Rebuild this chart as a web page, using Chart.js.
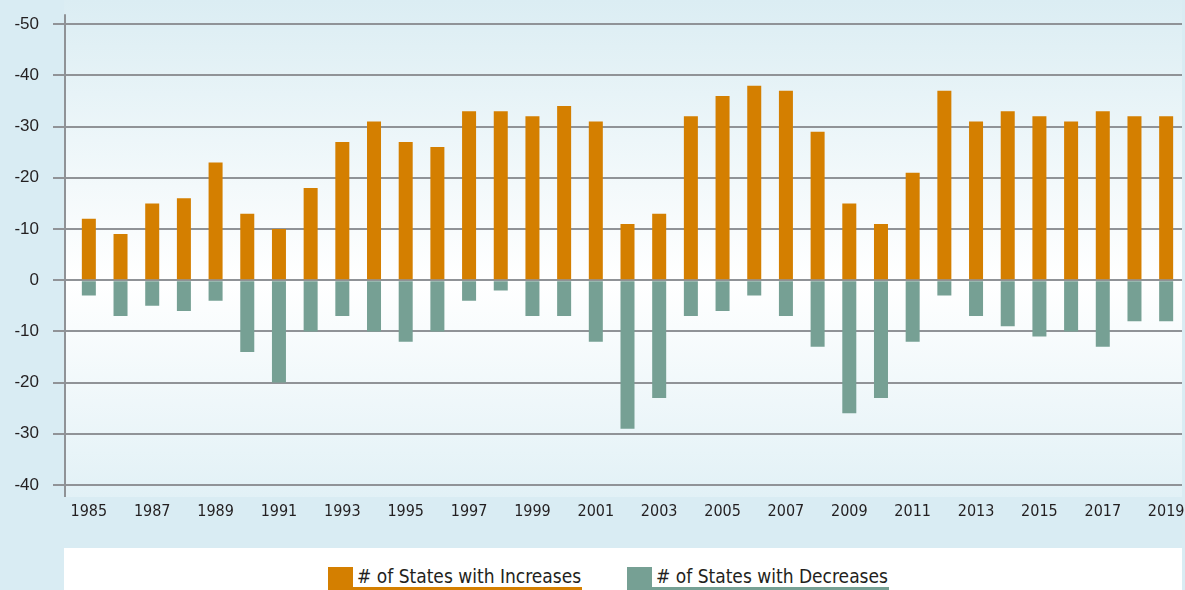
<!DOCTYPE html>
<html>
<head>
<meta charset="utf-8">
<script src="https://cdn.jsdelivr.net/npm/chart.js@4/dist/chart.umd.min.js"></script>
<style>
  html, body { margin: 0; padding: 0; }
  body { width: 1185px; height: 590px; background: #d9ecf3; position: relative; overflow: hidden; }
  #wrap { position: absolute; left: 0; top: 0; width: 1185px; height: 548px; }
  #legend { position: absolute; left: 64px; top: 548px; width: 1118px; height: 42px; background: #ffffff; }
  .item { position: absolute; top: 19px; height: 23px; }
  .mark { position: absolute; left: 0; top: 0; width: 25px; height: 23px; }
  .txt { position: absolute; left: 25px; top: -2px; padding-left: 4px; padding-right: 1px; white-space: nowrap;
         font-family: "Liberation Sans Narrow", "DejaVu Sans Condensed", sans-serif; font-size: 19px; color: #231f20;
         line-height: 22px; border-bottom: 3px solid; }
</style>
</head>
<body>
<div id="wrap"><canvas id="c" width="1185" height="548"></canvas></div>
<div id="legend"></div>
<script>
const years = ['1985','1986','1987','1988','1989','1990','1991','1992','1993','1994','1995','1996','1997','1998','1999','2000','2001','2002','2003','2004','2005','2006','2007','2008','2009','2010','2011','2012','2013','2014','2015','2016','2017','2018','2019'];
const increases = [12,9,15,16,23,13,10,18,27,31,27,26,33,33,32,34,31,11,13,32,36,38,37,29,15,11,21,37,31,33,32,31,33,32,32];
const decreases = [-3,-7,-5,-6,-4,-14,-20,-10,-7,-10,-12,-10,-4,-2,-7,-7,-12,-29,-23,-7,-6,-3,-7,-13,-26,-23,-12,-3,-7,-9,-11,-10,-13,-8,-8];
const yTickValues = [50,40,30,20,10,0,-10,-20,-30,-40];
const yTickLabels = ['-50','-40','-30','-20','-10','0','-10','-20','-30','-40'];
const seriesNames = ['# of States with Increases', '# of States with Decreases'];
const seriesColors = ['#d47f00', '#76a094'];

const bgPlugin = {
  id: 'bg',
  beforeDraw(chart) {
    const ctx = chart.ctx;
    const y = chart.scales.y;
    const top = 0, bottom = y.bottom + 12;
    const zeroY = y.getPixelForValue(0);
    const g = ctx.createLinearGradient(0, top, 0, bottom);
    g.addColorStop(0, '#dbedf3');
    g.addColorStop((zeroY - top) / (bottom - top), '#ffffff');
    g.addColorStop(1, '#e2f1f6');
    ctx.save();
    ctx.fillStyle = g;
    ctx.fillRect(64, top, chart.chartArea.right - 64, bottom - top);
    ctx.restore();
  },
  afterDraw(chart) {
    const ctx = chart.ctx;
    const a = chart.chartArea;
    ctx.save();
    ctx.strokeStyle = '#8f9296';
    ctx.lineWidth = 2;
    ctx.beginPath();
    ctx.moveTo(65, a.top - 10);
    ctx.lineTo(65, a.bottom + 12);
    ctx.stroke();
    ctx.restore();
  }
};

new Chart(document.getElementById('c'), {
  type: 'bar',
  data: {
    labels: years,
    datasets: [
      { label: seriesNames[0], data: increases, backgroundColor: seriesColors[0], borderWidth: 0 },
      { label: seriesNames[1], data: decreases, backgroundColor: seriesColors[1], borderWidth: 0 }
    ]
  },
  options: {
    responsive: false,
    animation: false,
    layout: { padding: { left: 0, right: 3, top: 19, bottom: 0 } },
    plugins: { legend: { display: false }, tooltip: { enabled: false } },
    datasets: { bar: { categoryPercentage: 1, barPercentage: 0.442 } },
    scales: {
      x: {
        stacked: true,
        offset: true,
        grid: { display: false, drawTicks: false },
        border: { display: false },
        afterFit(scale) { scale.height = 63; scale.paddingLeft = 0; scale.paddingRight = 0; },
        ticks: {
          autoSkip: false, maxRotation: 0, minRotation: 0, padding: 17,
          color: '#231f20',
          font: { family: '"Liberation Sans Narrow", "DejaVu Sans Condensed", sans-serif', size: 16 },
          callback(v, i) { return i % 2 === 0 ? years[i] : ''; }
        }
      },
      y: {
        stacked: true,
        min: -40, max: 50,
        afterFit(scale) { scale.width = 73; },
        afterBuildTicks(scale) { scale.ticks = yTickValues.map(v => ({ value: v })); },
        grid: { color: '#909397', lineWidth: 2, tickLength: 20, drawTicks: true, tickColor: '#909397' },
        border: { display: false },
        ticks: {
          padding: 14,
          color: '#231f20',
          font: { family: '"Liberation Sans", Arial, sans-serif', size: 17 },
          callback(v) { return yTickLabels[yTickValues.indexOf(v)]; }
        }
      }
    }
  },
  plugins: [bgPlugin]
});

const legend = document.getElementById('legend');
const legendLeft = [264, 563];
seriesNames.forEach((name, i) => {
  const item = document.createElement('div');
  item.className = 'item';
  item.style.left = legendLeft[i] + 'px';
  const m = document.createElement('div');
  m.className = 'mark';
  m.style.background = seriesColors[i];
  const t = document.createElement('div');
  t.className = 'txt';
  t.style.borderColor = seriesColors[i];
  t.textContent = name;
  item.appendChild(m);
  item.appendChild(t);
  legend.appendChild(item);
});
</script>
</body>
</html>
